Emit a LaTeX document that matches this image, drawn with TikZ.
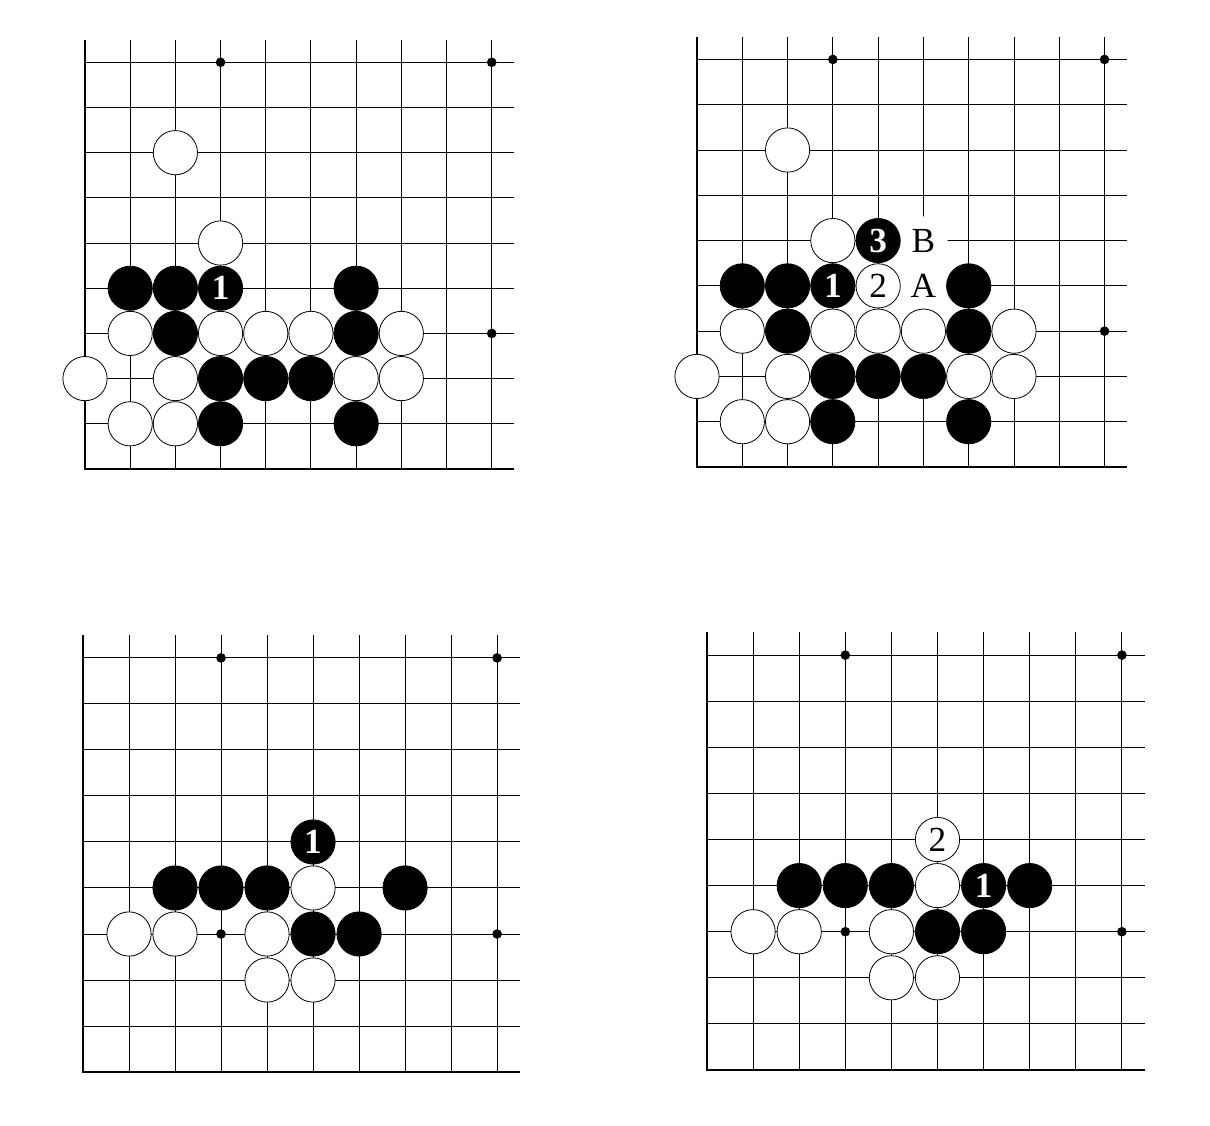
\documentclass[tikz,border=0pt]{standalone}
\usepackage{fontspec}
\setmainfont{Liberation Serif}

% one empty corner board: grid, edges and star points
\newcommand{\goboard}{%
    \foreach \i in {0,...,9} {
        \draw[gridline] (\i,0) -- (\i,9.5);
        \draw[gridline] (0,\i) -- (9.5,\i);
    }
    \draw[edgeline] (0,9.5) -- (0,0) -- (9.5,0);
    \foreach \hx/\hy in {3/3,3/9,9/3,9/9}
        \node[hoshi] (h\hx\hy) at (\hx,\hy) {};
}

\begin{document}
\begin{tikzpicture}[
    gridline/.style={line width=0.6pt},
    edgeline/.style={line width=1.8pt},
    hoshi/.style={circle, fill=black, inner sep=0pt, minimum size=6pt},
    stone/.style={circle, minimum size=0.97cm, inner sep=0pt, font=\fontsize{22}{24}\selectfont},
    wstone/.style={stone, draw=black, line width=0.5pt, fill=white},
    bstone/.style={stone, draw=black, line width=0.5pt, fill=black, text=white, font=\fontsize{22}{24}\selectfont\bfseries},
    letter/.style={stone, fill=white, minimum size=1.06cm}
]
    \useasboundingbox (0,0) rectangle (26.535,24.671);

    % top left
    \begin{scope}[shift={(1.864,14.386)}, scale=0.991, name prefix=d1-]
        \goboard
        \foreach \x/\y in {2/7,3/5,1/3,3/3,4/3,5/3,7/3,0/2,2/2,6/2,7/2,1/1,2/1}
            \node[wstone] (w\x\y) at (\x,\y) {};
        \foreach \x/\y in {1/4,2/4,6/4,2/3,6/3,3/2,4/2,5/2,3/1,6/1}
            \node[bstone] (b\x\y) at (\x,\y) {};
        \node[bstone] (m1) at (3,4) {1};
    \end{scope}

    % top right
    \begin{scope}[shift={(15.285,14.43)}, scale=0.993, name prefix=d2-]
        \goboard
        \node[letter] (la) at (5,4) {A};
        \node[letter] (lb) at (5,5) {B};
        \foreach \x/\y in {2/7,3/5,1/3,3/3,4/3,5/3,7/3,0/2,2/2,6/2,7/2,1/1,2/1}
            \node[wstone] (w\x\y) at (\x,\y) {};
        \foreach \x/\y in {1/4,2/4,6/4,2/3,6/3,3/2,4/2,5/2,3/1,6/1}
            \node[bstone] (b\x\y) at (\x,\y) {};
        \node[bstone] (m1) at (3,4) {1};
        \node[wstone] (m2) at (4,4) {2};
        \node[bstone] (m3) at (4,5) {3};
    \end{scope}

    % bottom left
    \begin{scope}[shift={(1.820,1.162)}, scale=1.009, name prefix=d3-]
        \goboard
        \foreach \x/\y in {5/4,1/3,2/3,4/3,4/2,5/2}
            \node[wstone] (w\x\y) at (\x,\y) {};
        \foreach \x/\y in {2/4,3/4,4/4,7/4,5/3,6/3}
            \node[bstone] (b\x\y) at (\x,\y) {};
        \node[bstone] (m1) at (5,5) {1};
    \end{scope}

    % bottom right
    \begin{scope}[shift={(15.504,1.206)}, scale=1.011, name prefix=d4-]
        \goboard
        \foreach \x/\y in {5/4,1/3,2/3,4/3,4/2,5/2}
            \node[wstone] (w\x\y) at (\x,\y) {};
        \foreach \x/\y in {2/4,3/4,4/4,7/4,5/3,6/3}
            \node[bstone] (b\x\y) at (\x,\y) {};
        \node[bstone] (m1) at (6,4) {1};
        \node[wstone] (m2) at (5,5) {2};
    \end{scope}
\end{tikzpicture}
\end{document}
